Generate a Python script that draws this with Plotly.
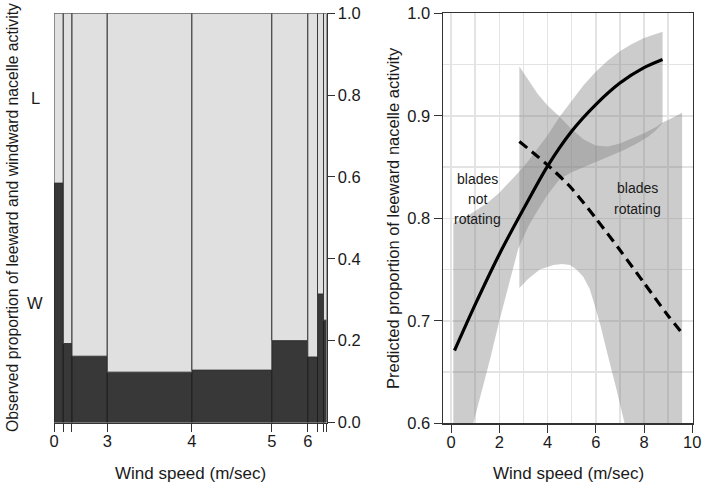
import numpy as np
import plotly.graph_objects as go

# ---------------- Left panel: observed (spine plot) ----------------
break_labels = ["0", "1", "2", "3", "4", "5", "6", "7", "8", "9"]
shown_break_labels = ["0", "3", "4", "5", "6"]
bin_share = [9.3, 8.7, 35.3, 84.7, 80.0, 36.0, 9.7, 6.0, 3.0]      # relative number of observations per wind-speed bin
windward_prop = [0.585, 0.193, 0.162, 0.123, 0.128, 0.200, 0.160, 0.314, 0.25]

# ---------------- Right panel: predicted ----------------
nr_x = [0.14, 1.0, 2.0, 3.0, 4.0, 5.0, 6.0, 7.0, 8.0, 8.77]
nr_y = [0.671, 0.716, 0.765, 0.809, 0.851, 0.885, 0.911, 0.932, 0.947, 0.955]
nr_up_x = [0.09, 0.5, 1.0, 1.5, 2.0, 2.5, 2.8, 3.2, 3.6, 4.0, 4.5, 5.0, 5.5, 6.0, 6.5, 7.0, 7.5, 8.0, 8.4, 8.77]
nr_up_y = [0.795, 0.800, 0.807, 0.815, 0.825, 0.837, 0.845, 0.856, 0.868, 0.881, 0.899, 0.915, 0.930, 0.943,
           0.954, 0.963, 0.970, 0.976, 0.979, 0.982]
nr_lo_x = [0.09, 0.5, 0.92, 1.3, 1.61, 2.0, 2.4, 2.78, 3.2, 3.6, 4.0, 4.5, 5.0, 5.5, 6.0, 6.6, 7.2, 7.7, 8.2,
           8.5, 8.77]
nr_lo_y = [0.48, 0.55, 0.60, 0.635, 0.662, 0.700, 0.737, 0.770, 0.792, 0.808, 0.823, 0.838, 0.845, 0.850,
           0.855, 0.861, 0.867, 0.873, 0.880, 0.886, 0.893]

r_x = [2.83, 3.5, 4.0, 4.93, 6.0, 7.0, 8.0, 9.0, 9.58]
r_y = [0.875, 0.862, 0.852, 0.831, 0.800, 0.769, 0.737, 0.705, 0.688]
r_up_x = [2.83, 3.2, 3.6, 4.0, 4.5, 5.0, 5.5, 6.0, 6.5, 7.0, 7.5, 8.0, 8.5, 8.73, 9.0, 9.58]
r_up_y = [0.948, 0.935, 0.921, 0.910, 0.899, 0.887, 0.877, 0.871, 0.870, 0.873, 0.878, 0.883, 0.889, 0.893,
          0.896, 0.903]
r_lo_x = [2.83, 3.2, 3.68, 4.24, 4.6, 4.93, 5.2, 5.48, 5.75, 5.97, 6.2, 6.45, 6.87, 7.21, 7.6, 8.2, 9.0, 9.58]
r_lo_y = [0.732, 0.741, 0.750, 0.7545, 0.7555, 0.7545, 0.750, 0.743, 0.731, 0.714, 0.695, 0.671, 0.632, 0.600,
          0.56, 0.48, 0.38, 0.30]

FONT = "Liberation Sans, Arial, Helvetica, sans-serif"
W, H = 704, 489
TXT = "#1a1a1a"
AX = "#333333"
GRID = "#e3e3e3"
BAND = "rgba(128,128,128,0.4)"

def px_x(p):
    return p / W

def px_y(p):
    return (H - p) / H

fig = go.Figure()

edges = np.concatenate([[0.0], np.cumsum(bin_share)])
mids = (edges[:-1] + edges[1:]) / 2
wprop = np.array(windward_prop)

fig.add_trace(go.Bar(x=mids, y=wprop, base=np.zeros_like(wprop), width=bin_share,
                     marker=dict(color="#383838", line=dict(color="#1e1e1e", width=1)),
                     xaxis="x", yaxis="y", showlegend=False, hoverinfo="skip"))
fig.add_trace(go.Bar(x=mids, y=1 - wprop, base=wprop, width=bin_share,
                     marker=dict(color="#e0e0e0", line=dict(color="#3a3a3a", width=1)),
                     xaxis="x", yaxis="y", showlegend=False, hoverinfo="skip"))

def band(ux, uy, lx, ly):
    return list(ux) + list(lx)[::-1], list(uy) + list(ly)[::-1]

bx, by = band(nr_up_x, nr_up_y, nr_lo_x, nr_lo_y)
fig.add_trace(go.Scatter(x=bx, y=by, fill="toself", fillcolor=BAND,
                         line=dict(width=0), mode="lines",
                         xaxis="x2", yaxis="y2", showlegend=False, hoverinfo="skip"))
bx, by = band(r_up_x, r_up_y, r_lo_x, r_lo_y)
fig.add_trace(go.Scatter(x=bx, y=by, fill="toself", fillcolor=BAND,
                         line=dict(width=0), mode="lines",
                         xaxis="x2", yaxis="y2", showlegend=False, hoverinfo="skip"))

fig.add_trace(go.Scatter(x=nr_x, y=nr_y, mode="lines",
                         line=dict(color="black", width=3.2, shape="spline", smoothing=0.8),
                         xaxis="x2", yaxis="y2", showlegend=False, hoverinfo="skip"))
fig.add_trace(go.Scatter(x=r_x, y=r_y, mode="lines",
                         line=dict(color="black", width=3.2, dash="10px,6px", shape="spline", smoothing=0.8),
                         xaxis="x2", yaxis="y2", showlegend=False, hoverinfo="skip"))

ticktext = [lab if lab in shown_break_labels else "" for lab in break_labels]

common = dict(ticks="outside", tickcolor=AX, tickwidth=1, zeroline=False, automargin=False,
              showline=True, linecolor=AX, ticklabeloverflow="allow")

fig.update_layout(
    template="none",
    width=W, height=H, autosize=False,
    margin=dict(l=0, r=0, t=0, b=0, pad=0),
    paper_bgcolor="white", plot_bgcolor="white",
    barmode="overlay", bargap=0, showlegend=False,
    font=dict(family=FONT, size=16.5, color=TXT),
    xaxis=dict(domain=[px_x(54), px_x(326.5)], range=[0, edges[-1]],
               tickmode="array", tickvals=list(edges), ticktext=ticktext,
               ticklen=8, linewidth=1, showgrid=False, anchor="y", ticklabelstandoff=-4, **common),
    yaxis=dict(domain=[px_y(422.5), px_y(13.3)], range=[0, 1], side="right",
               tickmode="array", tickvals=[0, 0.2, 0.4, 0.6, 0.8, 1.0],
               ticktext=["0.0", "0.2", "0.4", "0.6", "0.8", "1.0"],
               ticklen=7, linewidth=1, showgrid=False, anchor="x", **common),
    xaxis2=dict(domain=[px_x(442.7), px_x(692.7)], range=[-0.35, 10.02],
                tickmode="array", tickvals=[0, 2, 4, 6, 8, 10], ticktext=["0", "2", "4", "6", "8", "10"],
                ticklen=8, mirror=True, linewidth=1.2, ticklabelstandoff=-4,
                showgrid=True, gridcolor=GRID, gridwidth=1.6,
                minor=dict(tickmode="array", tickvals=[1, 3, 5, 7, 9], showgrid=True,
                           gridcolor=GRID, gridwidth=1.6, ticks=""),
                anchor="y2", **common),
    yaxis2=dict(domain=[px_y(423.3), px_y(13.3)], range=[0.6, 1.0],
                tickmode="array", tickvals=[0.6, 0.7, 0.8, 0.9, 1.0],
                ticktext=["0.6", "0.7", "0.8", "0.9", "1.0"],
                ticklen=8, mirror=True, linewidth=1.2,
                showgrid=True, gridcolor=GRID, gridwidth=1.6,
                minor=dict(tickmode="array", tickvals=[0.65, 0.75, 0.85, 0.95], showgrid=True,
                           gridcolor=GRID, gridwidth=1.6, ticks=""),
                anchor="x2", **common),
)

ann = []
ann.append(dict(text="Observed proportion of leeward and windward nacelle activity",
                x=px_x(12), y=px_y(218), xref="paper", yref="paper", textangle=-90,
                showarrow=False, xanchor="center", yanchor="middle", font=dict(size=15.75)))
ann.append(dict(text="Predicted proportion of leeward nacelle activity",
                x=px_x(393), y=px_y(218), xref="paper", yref="paper", textangle=-90,
                showarrow=False, xanchor="center", yanchor="middle", font=dict(size=16.5)))
ann.append(dict(text="Wind speed (m/sec)", x=px_x(190), y=px_y(473), xref="paper", yref="paper",
                showarrow=False, xanchor="center", yanchor="middle", font=dict(size=17)))
ann.append(dict(text="Wind speed (m/sec)", x=px_x(568), y=px_y(473), xref="paper", yref="paper",
                showarrow=False, xanchor="center", yanchor="middle", font=dict(size=17)))
first_w = windward_prop[0]
ann.append(dict(text="L", x=px_x(35), y=(first_w + 1) / 2, xref="paper", yref="y",
                showarrow=False, xanchor="center", yanchor="middle", font=dict(size=16.5)))
ann.append(dict(text="W", x=px_x(35), y=first_w / 2, xref="paper", yref="y",
                showarrow=False, xanchor="center", yanchor="middle", font=dict(size=16.5)))
for txt, yy in [("blades", 0.8385), ("not", 0.8188), ("rotating", 0.7993)]:
    ann.append(dict(text=txt, x=1.11, y=yy, xref="x2", yref="y2", showarrow=False,
                    xanchor="center", yanchor="middle", font=dict(size=14)))
for txt, yy in [("blades", 0.8293), ("rotating", 0.809)]:
    ann.append(dict(text=txt, x=7.72, y=yy, xref="x2", yref="y2", showarrow=False,
                    xanchor="center", yanchor="middle", font=dict(size=14)))
fig.update_layout(annotations=ann)

fig.write_html("out.html", config={"displayModeBar": False, "staticPlot": True},
               post_script="document.body.style.margin='0px';document.body.style.overflow='hidden';")
